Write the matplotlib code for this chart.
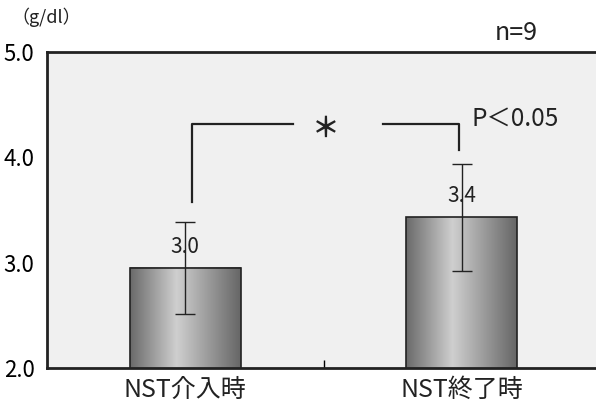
import matplotlib
matplotlib.use("Agg")
import matplotlib.pyplot as plt
import numpy as np
from matplotlib.colors import LinearSegmentedColormap

plt.rcParams['font.family'] = ['Noto Sans CJK JP', 'DejaVu Sans']

categories = ["NST介入時", "NST終了時"]
means = [2.95, 3.43]
sds = [0.44, 0.51]
value_labels = ["3.0", "3.4"]
yticks = [2.0, 3.0, 4.0, 5.0]
ytick_labels = ["2.0", "3.0", "4.0", "5.0"]

fig = plt.figure(figsize=(5.96, 4.12), dpi=100)
ax = fig.add_axes([47/596, 1-368/412, (600-47)/596, (368-52)/412])
ax.set_facecolor("#f0f0f0")

x = np.arange(len(categories))
width = 0.4
cmap = LinearSegmentedColormap.from_list("g", [(0, "#6a6a6a"), (0.42, "#cfcfcf"), (1, "#666666")])
grad = np.linspace(0, 1, 256).reshape(1, -1)
bars = ax.bar(x, means, width, bottom=0, color="none", edgecolor="#222222", linewidth=1.2, zorder=3)
for b, m in zip(bars, means):
    x0 = b.get_x()
    ax.imshow(grad, cmap=cmap, extent=[x0, x0 + width, 2.0, m], aspect="auto", zorder=2)
ax.set_xlim(-0.5, 1.5)
ax.set_ylim(2.0, 5.0)

ax.errorbar(x, means, yerr=sds, fmt="none", ecolor="#222222", elinewidth=1.0, capsize=7, capthick=1.0, zorder=4)

for xi, m, lab in zip(x, means, value_labels):
    ax.text(xi, m + 0.2, lab, ha="center", va="center", fontsize=15, color="#222222", zorder=5)

# significance bracket
ax.plot([0.025, 0.025, 0.39], [3.58, 4.32, 4.32], color="#222222", lw=1.6, zorder=5)
ax.plot([0.715, 0.99, 0.99], [4.32, 4.32, 4.07], color="#222222", lw=1.6, zorder=5)
ax.text(0.51, 4.27, "＊", ha="center", va="center", fontsize=20, color="#222222", fontweight="bold")
ax.text(1.035, 4.37, "P＜0.05", ha="left", va="center", fontsize=17.5, color="#222222")

ax.set_xticks([0.5])
ax.set_xticklabels([""])
ax.tick_params(axis="x", direction="in", length=6, width=1)
ax.set_yticks(yticks)
ax.set_yticklabels(ytick_labels, fontsize=16)
ax.tick_params(axis="y", length=0, pad=9)
for xi, c in zip(x, categories):
    ax.text(xi, 2.0 - 0.21, c, ha="center", va="center", fontsize=18, color="#222222")

for s in ["top", "left", "bottom"]:
    ax.spines[s].set_linewidth(2)
    ax.spines[s].set_color("#222222")
ax.spines["right"].set_visible(False)

fig.text(11/596, 1-17/412, "（g/dl）", ha="left", va="center", fontsize=13, color="#222222")
fig.text(516/596, 1-33/412, "n=9", ha="center", va="center", fontsize=18, color="#222222")

fig.savefig("out.png", dpi=100)
